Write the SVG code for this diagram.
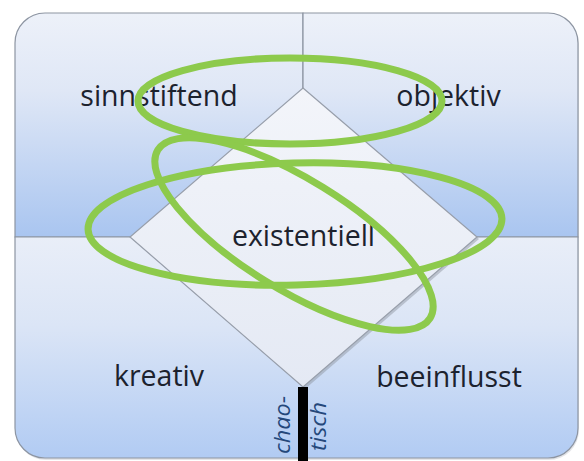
<svg xmlns="http://www.w3.org/2000/svg" width="584" height="461" viewBox="0 0 584 461">
  <defs>
    <linearGradient id="gTop" gradientUnits="userSpaceOnUse" x1="0" y1="13" x2="0" y2="237">
      <stop offset="0" stop-color="#edf1f9"/>
      <stop offset="0.35" stop-color="#dfe7f6"/>
      <stop offset="1" stop-color="#a9c5f0"/>
    </linearGradient>
    <linearGradient id="gBot" gradientUnits="userSpaceOnUse" x1="0" y1="237" x2="0" y2="458">
      <stop offset="0" stop-color="#e9eef8"/>
      <stop offset="0.4" stop-color="#dbe5f6"/>
      <stop offset="1" stop-color="#b1cbf3"/>
    </linearGradient>
    <linearGradient id="gDia" gradientUnits="userSpaceOnUse" x1="0" y1="88" x2="0" y2="387">
      <stop offset="0" stop-color="#f3f5fa"/>
      <stop offset="1" stop-color="#e4e9f4"/>
    </linearGradient>
    <style>
      .quad { stroke: #8d95a2; stroke-width: 1.2; }
      .lbl { font-family: "Open Sans", "Liberation Sans", sans-serif; font-size: 28.5px; fill: #1c222e; text-anchor: middle; }
      .side { font-family: "Open Sans", "Liberation Sans", sans-serif; font-size: 21px; font-style: italic; fill: #24477a; }
      .ring { fill: none; stroke: #8dca4c; stroke-width: 7; }
    </style>
  </defs>

  <rect x="0" y="0" width="584" height="461" fill="#ffffff"/>
  <rect x="16" y="15" width="563" height="445" rx="30" fill="#c9ccd2" opacity="0.5"/>

  <g id="quadrant-top-left">
    <path class="quad" d="M15,237 V43 A30,30 0 0 1 45,13 H303 V237 Z" fill="url(#gTop)"/>
    <text class="lbl" x="159" y="106">sinnstiftend</text>
  </g>
  <g id="quadrant-top-right">
    <path class="quad" d="M303,13 H548 A30,30 0 0 1 578,43 V237 H303 Z" fill="url(#gTop)"/>
    <text class="lbl" x="448.5" y="106">objektiv</text>
  </g>
  <g id="quadrant-bottom-left">
    <path class="quad" d="M15,237 H303 V458 H45 A30,30 0 0 1 15,428 Z" fill="url(#gBot)"/>
    <text class="lbl" x="159" y="386">kreativ</text>
  </g>
  <g id="quadrant-bottom-right">
    <path class="quad" d="M303,237 H578 V428 A30,30 0 0 1 548,458 H303 Z" fill="url(#gBot)"/>
    <text class="lbl" x="449" y="387">beeinflusst</text>
  </g>

  <g id="center-diamond">
    <polygon points="305,90 479,239 305,389 132,239" fill="#8a919c" opacity="0.45"/>
    <polygon points="303,88 477,237 303,387 130,237" fill="url(#gDia)" stroke="#979eaa" stroke-width="1.2"/>
    <text class="lbl" x="303.5" y="246">existentiell</text>
  </g>

  <g id="axis-chaotisch">
    <rect x="298" y="387" width="10" height="74" fill="#000000"/>
    <text class="side" transform="translate(290,454) rotate(-90)" textLength="58" lengthAdjust="spacingAndGlyphs">chao-</text>
    <text class="side" transform="translate(326,451) rotate(-90)" textLength="49" lengthAdjust="spacingAndGlyphs">tisch</text>
  </g>

  <g id="connectors">
    <ellipse class="ring" cx="290" cy="101" rx="152" ry="43"/>
    <ellipse class="ring" cx="294" cy="234" rx="160" ry="55" transform="rotate(31.7 294 234)"/>
    <ellipse class="ring" cx="295" cy="224" rx="207" ry="61" transform="rotate(-1.5 295 224)"/>
  </g>
</svg>
